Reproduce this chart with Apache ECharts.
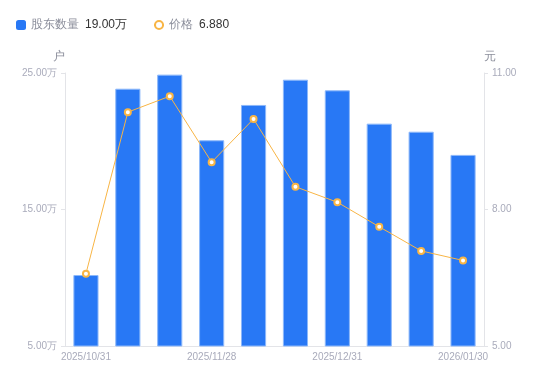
<!DOCTYPE html>
<html>
<head>
<meta charset="utf-8">
<script src="https://cdn.jsdelivr.net/npm/echarts@6/dist/echarts.min.js"></script>
<style>html,body{margin:0;padding:0;background:#fff;}#c{width:550px;height:381px;}</style>
</head>
<body>
<div id="c"></div>
<script>
var categories = ['2025/10/31','2025/11/14','2025/11/20','2025/11/28','2025/12/10','2025/12/19','2025/12/31','2026/01/09','2026/01/20','2026/01/30'];
var holders = [10.20, 23.85, 24.88, 20.07, 22.66, 24.51, 23.73, 21.29, 20.70, 19.00];
var prices = [6.59, 10.14, 10.49, 9.04, 9.99, 8.50, 8.16, 7.62, 7.09, 6.88];
var leftTicks = {min: 5, max: 25, interval: 10};
var rightTicks = {min: 5, max: 11, interval: 3};

var chart = echarts.init(document.getElementById('c'));
var labelColor = '#a9abbb';
var lineColor = '#e3e4e8';
chart.setOption({
  animation: false,
  textStyle: {fontFamily: 'Liberation Sans, Arial, sans-serif'},
  legend: {
    left: 11, top: 14,
    itemWidth: 10, itemHeight: 10, itemGap: 26,
    data: [
      {name: '股东数量', icon: 'roundRect', itemStyle: {borderWidth: 0, color: '#2878f5'}},
      {name: '价格'}
    ],
    formatter: function (name) {
      if (name === '股东数量') return '{n|' + name + '}{v|' + holders[holders.length - 1].toFixed(2) + '万}';
      return '{n|' + name + '}{v|' + prices[prices.length - 1].toFixed(3) + '}';
    },
    textStyle: {
      rich: {
        n: {color: '#8b8e9b', fontSize: 12, padding: [0, 6, 0, 0]},
        v: {color: '#333', fontSize: 12}
      }
    }
  },
  grid: {left: 65, right: 66, top: 73, bottom: 35},
  xAxis: {
    type: 'category',
    data: categories,
    axisLine: {lineStyle: {color: lineColor}},
    axisTick: {show: false},
    axisLabel: {color: labelColor, fontSize: 10, margin: 6, interval: 2}
  },
  yAxis: [{
    type: 'value', name: '户', position: 'left',
    min: leftTicks.min, max: leftTicks.max, interval: leftTicks.interval,
    nameGap: 10,
    nameTextStyle: {color: '#8b8e9b', fontSize: 12, align: 'right'},
    axisLine: {show: true, lineStyle: {color: lineColor}},
    axisTick: {show: true, length: 4, lineStyle: {color: lineColor}},
    splitLine: {show: false},
    axisLabel: {color: labelColor, fontSize: 10, margin: 8, formatter: function (v) { return v.toFixed(2) + '万'; }}
  }, {
    type: 'value', name: '元', position: 'right',
    min: rightTicks.min, max: rightTicks.max, interval: rightTicks.interval,
    nameGap: 10,
    nameTextStyle: {color: '#8b8e9b', fontSize: 12, align: 'left'},
    axisLine: {show: true, lineStyle: {color: lineColor}},
    axisTick: {show: true, length: 4, lineStyle: {color: lineColor}},
    splitLine: {show: false},
    axisLabel: {color: labelColor, fontSize: 10, margin: 8, formatter: function (v) { return v.toFixed(2); }}
  }],
  series: [{
    name: '股东数量', type: 'bar', yAxisIndex: 0,
    data: holders, barWidth: '60%',
    itemStyle: {color: '#2878f5', borderColor: '#8db8fa', borderWidth: 1}
  }, {
    name: '价格', type: 'line', yAxisIndex: 1,
    data: prices,
    symbol: 'emptyCircle', symbolSize: 6,
    lineStyle: {color: '#f8b545', width: 1},
    itemStyle: {color: '#f8b545', borderWidth: 2}
  }]
});
</script>
</body>
</html>
